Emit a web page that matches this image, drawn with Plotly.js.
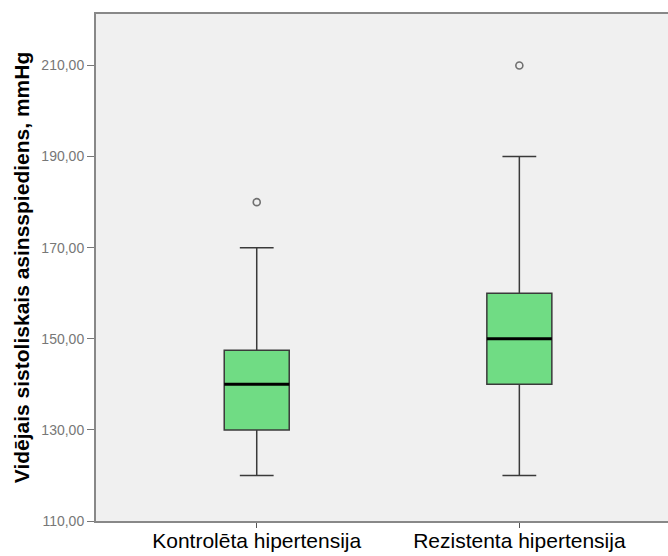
<!DOCTYPE html>
<html>
<head>
<meta charset="utf-8">
<script src="https://cdn.plot.ly/plotly-3.0.1.min.js"></script>
<style>html,body{margin:0;padding:0;background:#fff;}#chart{width:668px;height:556px;}</style>
</head>
<body>
<div id="chart"></div>
<script>
var categories = ["Kontrolēta hipertensija", "Rezistenta hipertensija"];
var lowerWhisker = [120, 120];
var q1 = [130, 140];
var median = [140, 150];
var q3 = [147.5, 160];
var upperWhisker = [170, 190];
var outliers = [[180], [210]];
var yTicks = [110, 130, 150, 170, 190, 210];
var yTickLabels = ["110,00", "130,00", "150,00", "170,00", "190,00", "210,00"];

var boxWidth = 0.2475;
var traces = [];
categories.forEach(function (c, i) {
  traces.push({
    type: "box",
    x: [i],
    q1: [q1[i]], median: [median[i]], q3: [q3[i]],
    lowerfence: [lowerWhisker[i]], upperfence: [upperWhisker[i]],
    width: boxWidth,
    whiskerwidth: 0.52,
    fillcolor: "#70DC84",
    line: { color: "#3a3a3a", width: 1.5 },
    boxpoints: false,
    showlegend: false,
    hoverinfo: "skip"
  });
  traces.push({
    type: "scatter", mode: "lines",
    x: [i - boxWidth / 2, i + boxWidth / 2],
    y: [median[i], median[i]],
    line: { color: "#000", width: 3 },
    showlegend: false, hoverinfo: "skip"
  });
  traces.push({
    type: "scatter", mode: "markers",
    x: outliers[i].map(function () { return i; }),
    y: outliers[i],
    marker: { symbol: "circle-open", size: 7, color: "#707070", line: { width: 1.6, color: "#707070" } },
    showlegend: false, hoverinfo: "skip"
  });
});

var layout = {
  width: 668, height: 556,
  margin: { l: 96, r: 0, t: 14, b: 35 },
  paper_bgcolor: "#ffffff",
  plot_bgcolor: "#F0F0F0",
  font: { family: "Liberation Sans, Arial, sans-serif" },
  xaxis: {
    range: [-0.612, 1.566],
    tickvals: [0, 1],
    ticktext: categories,
    tickfont: { size: 21, color: "#000" },
    ticks: "outside", ticklen: 5, tickcolor: "#555", tickwidth: 1,
    ticklabelstandoff: -5,
    showgrid: false, zeroline: false,
    showline: true, linecolor: "#888", linewidth: 2,
    mirror: true
  },
  yaxis: {
    range: [110, 221.3],
    tickvals: yTicks,
    ticktext: yTickLabels,
    tickfont: { size: 14, color: "#777" },
    ticks: "outside", ticklen: 7, tickcolor: "#777", tickwidth: 1,
    showgrid: false, zeroline: false,
    showline: true, linecolor: "#888", linewidth: 2,
    mirror: false,
    title: { text: "Vidējais sistoliskais asinsspiediens, mmHg", font: { size: 21, color: "#000", weight: "bold" }, standoff: 6 }
  }
};

Plotly.newPlot("chart", traces, layout, { displayModeBar: false, staticPlot: true });
</script>
</body>
</html>
